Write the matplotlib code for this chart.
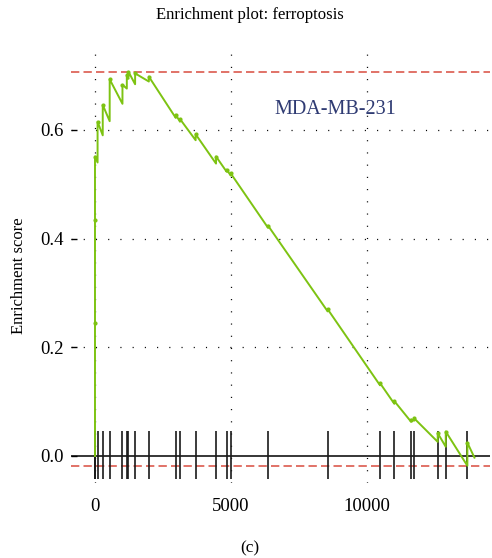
import matplotlib
matplotlib.use("Agg")
import matplotlib.pyplot as plt

# gene-set hit ranks (vertical ticks at the bottom)
hit_ranks = [0, 0, 0, 95, 285, 540, 1010, 1170, 1230, 1475, 1980,
             2970, 3125, 3700, 4450, 4840, 4990, 6360, 8555,
             10480, 11005, 11620, 11740, 12600, 12895, 13690]

# running enrichment score just before / after each hit
es_before = [0.000, 0.245, 0.435, 0.540, 0.590, 0.616, 0.648, 0.676, 0.694, 0.684, 0.689,
             0.622, 0.615, 0.581, 0.538, 0.523, 0.516, 0.420, 0.266,
             0.130, 0.096, 0.063, 0.065, 0.026, 0.017, -0.018]
es_after = [0.245, 0.435, 0.551, 0.615, 0.646, 0.693, 0.683, 0.701, 0.707, 0.704, 0.698,
            0.628, 0.620, 0.592, 0.551, 0.527, 0.520, 0.424, 0.270,
            0.134, 0.101, 0.067, 0.069, 0.042, 0.045, 0.0245]
n_genes = 13950
es_end = -0.003

x_ticks = [0, 5000, 10000]
y_ticks = [0.0, 0.2, 0.4, 0.6]

# build the step-and-slope curve
curve_x = [0]
curve_y = [0.0]
for r, b, a in zip(hit_ranks, es_before, es_after):
    curve_x += [r, r]
    curve_y += [b, a]
curve_x.append(n_genes)
curve_y.append(es_end)

plt.rcParams['font.family'] = ['Liberation Serif', 'DejaVu Serif']
plt.rcParams['lines.scale_dashes'] = False

fig = plt.figure(figsize=(4.92, 5.58), dpi=100)
ax = fig.add_axes([71 / 492, 1 - 483 / 558, 419 / 492, 438 / 558])

green = '#7dc312'
red = '#dc5a4e'

# dotted grid
for xv in x_ticks:
    ax.axvline(xv, color='black', lw=0.9, ls=(0, (0.8, 8)), zorder=1)
for yv in y_ticks[1:]:
    ax.axhline(yv, color='black', lw=0.9, ls=(0, (0.8, 8)), zorder=1)

# max / min enrichment score lines
ax.axhline(max(curve_y), color=red, lw=1.2, ls=(0, (6, 3)), zorder=2)
ax.axhline(min(curve_y), color=red, lw=1.2, ls=(0, (6, 3)), zorder=2)

ax.axhline(0, color='black', lw=1.1, zorder=3)

# hit ticks
ax.vlines(hit_ranks, -0.042, 0.046, color='#1a1a1a', lw=1.2, zorder=3)

# running score
ax.plot(curve_x, curve_y, color=green, lw=1.4, zorder=4)
ax.plot(hit_ranks, es_after, 'o', color=green, ms=3, mec='none', zorder=5)

ax.text(8824, 0.637, 'MDA-MB-231', color='#2f3b73', fontsize=14.5,
        ha='center', va='center')

ax.set_xlim(-882, 14522)
ax.set_ylim(-0.0497, 0.7562)
ax.set_xticks(x_ticks)
ax.set_xticklabels([str(v) for v in x_ticks])
ax.set_yticks(y_ticks)
ax.set_yticklabels([f'{v:.1f}' for v in y_ticks])
ax.tick_params(axis='x', length=0, pad=10.5, labelsize=13.5)
ax.tick_params(axis='y', direction='in', length=4, width=1, pad=5.5, labelsize=13.5)
for s in ax.spines.values():
    s.set_visible(False)

ax.set_ylabel('Enrichment score', fontsize=12)
ax.yaxis.set_label_coords(-0.106, 0.473)

fig.text(0.508, 0.974, 'Enrichment plot: ferroptosis', ha='center', va='center', fontsize=12)
fig.text(0.508, 0.018, '(c)', ha='center', va='center', fontsize=12.5)

fig.savefig('out.png', dpi=100)
